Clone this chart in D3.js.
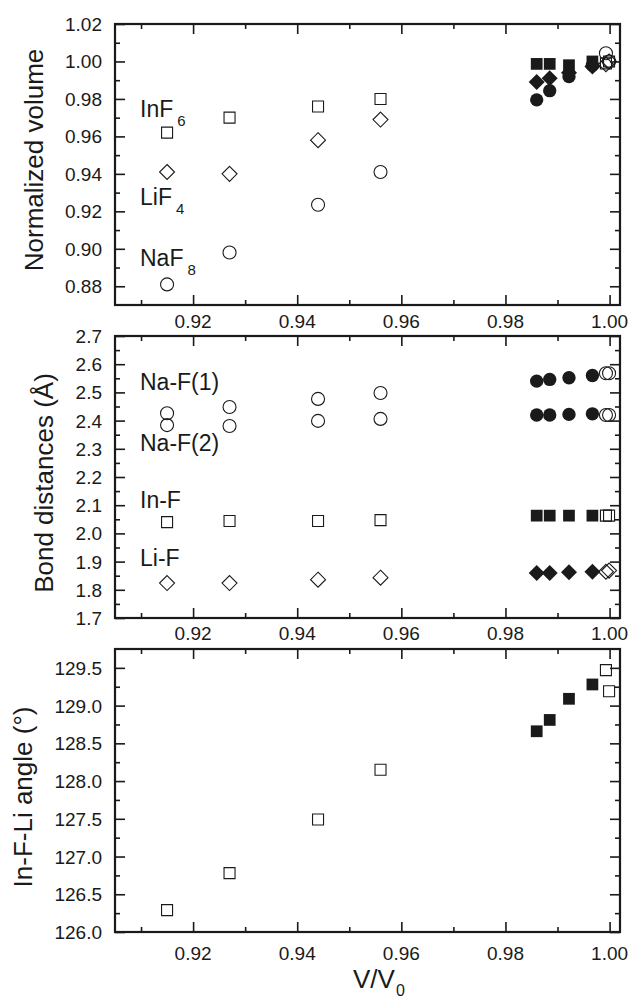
<!DOCTYPE html>
<html>
<head>
<meta charset="utf-8">
<script src="https://cdn.jsdelivr.net/npm/d3@7"></script>
<style>
  html, body { margin: 0; padding: 0; background: #fff; }
  svg { display: block; font-family: "Liberation Sans", Arial, Helvetica, sans-serif; }
</style>
</head>
<body>
<svg id="chart" width="631" height="998"></svg>
<script>
// Relative volume V/V0 at which each structure was evaluated
const calcX = [0.915, 0.927, 0.944, 0.956];        // open symbols, compressed
const measX = [0.986, 0.9885, 0.9922, 0.9967];     // filled symbols
const refX  = [0.9993, 0.9999];                    // open symbols near ambient

// Normalized polyhedral volumes
const inf6Calc = [0.962, 0.970, 0.976, 0.980];
const inf6Meas = [0.9987, 0.9987, 0.998, 1.000];
const inf6Ref  = [0.999, 1.000];
const lif4Calc = [0.941, 0.940, 0.958, 0.969];
const lif4Meas = [0.989, 0.991, 0.994, 0.9973];
const lif4Ref  = [0.9985, 1.000];
const naf8Calc = [0.881, 0.898, 0.9235, 0.941];
const naf8Meas = [0.9795, 0.9844, 0.9919, 0.998];
const naf8Ref  = [1.0044, 1.000];

// Bond distances (Å)
const naF1Calc = [2.426, 2.448, 2.477, 2.498];
const naF1Meas = [2.540, 2.546, 2.552, 2.560];
const naF1Ref  = [2.568, 2.568];
const naF2Calc = [2.384, 2.381, 2.399, 2.406];
const naF2Meas = [2.420, 2.420, 2.422, 2.424];
const naF2Ref  = [2.420, 2.420];
const inFCalc  = [2.040, 2.044, 2.044, 2.047];
const inFMeas  = [2.063, 2.063, 2.063, 2.063];
const inFRef   = [2.063, 2.063];
const liFCalc  = [1.824, 1.824, 1.836, 1.843];
const liFMeas  = [1.860, 1.860, 1.862, 1.864];
const liFRef   = [1.864, 1.868];

// In-F-Li bridging angle (degrees)
const angCalc = [126.29, 126.78, 127.49, 128.15];
const angMeas = [128.66, 128.81, 129.09, 129.28];
const angRef  = [129.47, 129.19];

// Tick values
const xMajor = [0.92, 0.94, 0.96, 0.98, 1.00];
const xMinor = [0.91, 0.93, 0.95, 0.97, 0.99];
const volMajor = [0.88, 0.90, 0.92, 0.94, 0.96, 0.98, 1.00, 1.02];
const volMinor = [0.89, 0.91, 0.93, 0.95, 0.97, 0.99, 1.01];
const bondMajor = [1.7, 1.8, 1.9, 2.0, 2.1, 2.2, 2.3, 2.4, 2.5, 2.6, 2.7];
const bondMinor = [1.75, 1.85, 1.95, 2.05, 2.15, 2.25, 2.35, 2.45, 2.55, 2.65];
const angMajor = [126.0, 126.5, 127.0, 127.5, 128.0, 128.5, 129.0, 129.5];
const angMinor = [126.25, 126.75, 127.25, 127.75, 128.25, 128.75, 129.25];

const svg = d3.select("#chart");
const ink = "#1a1a1a";
const left = 115, right = 620;
const x = d3.scaleLinear().domain([0.905, 1.002]).range([left, right]);

// square rotated by 45 degrees (equal width and height)
const symbolRhombus = {
  draw(ctx, size) {
    const r = Math.sqrt(size / 2);
    ctx.moveTo(0, -r); ctx.lineTo(r, 0); ctx.lineTo(0, r); ctx.lineTo(-r, 0); ctx.closePath();
  }
};
const symType = { square: d3.symbolSquare, circle: d3.symbolCircle, diamond: symbolRhombus };
const openSize = { square: 121, circle: 133, diamond: 112 };
const fillSize = { square: 138, circle: 140, diamond: 128 };

function panel(cfg) {
  const y = d3.scaleLinear().domain(cfg.domain).range([cfg.bottom, cfg.top]);
  const g = svg.append("g");
  const h = cfg.bottom - cfg.top;
  const w = right - left;

  // mirrored inward ticks: bottom / top
  const xb = d3.axisTop(x).tickValues(xMajor).tickSize(10).tickFormat("");
  const xbm = d3.axisTop(x).tickValues(xMinor).tickSize(5).tickFormat("");
  const xt = d3.axisBottom(x).tickValues(xMajor).tickSize(10).tickFormat("");
  const xtm = d3.axisBottom(x).tickValues(xMinor).tickSize(5).tickFormat("");
  g.append("g").attr("transform", `translate(0,${cfg.bottom})`).call(xb);
  g.append("g").attr("transform", `translate(0,${cfg.bottom})`).call(xbm);
  g.append("g").attr("transform", `translate(0,${cfg.top})`).call(xt);
  g.append("g").attr("transform", `translate(0,${cfg.top})`).call(xtm);

  // mirrored inward ticks: left / right
  const yl = d3.axisRight(y).tickValues(cfg.major).tickSize(10).tickFormat("");
  const ylm = d3.axisRight(y).tickValues(cfg.minor).tickSize(5).tickFormat("");
  const yr = d3.axisLeft(y).tickValues(cfg.major).tickSize(10).tickFormat("");
  const yrm = d3.axisLeft(y).tickValues(cfg.minor).tickSize(5).tickFormat("");
  g.append("g").attr("transform", `translate(${left},0)`).call(yl);
  g.append("g").attr("transform", `translate(${left},0)`).call(ylm);
  g.append("g").attr("transform", `translate(${right},0)`).call(yr);
  g.append("g").attr("transform", `translate(${right},0)`).call(yrm);

  g.selectAll(".domain").remove();
  g.selectAll(".tick line").attr("stroke", ink).attr("stroke-width", 1.6);

  // frame
  g.append("rect").attr("x", left).attr("y", cfg.top).attr("width", w).attr("height", h)
    .attr("fill", "none").attr("stroke", ink).attr("stroke-width", 2.2);

  // tick labels
  g.selectAll(".xl").data(xMajor).join("text")
    .attr("x", d => x(d)).attr("y", cfg.bottom + cfg.xLabelGap)
    .attr("text-anchor", "middle").attr("font-size", 19).attr("fill", ink)
    .text(d => d3.format(".2f")(d));
  g.selectAll(".yl").data(cfg.major).join("text")
    .attr("x", left - 13).attr("y", d => y(d) + 7)
    .attr("text-anchor", "end").attr("font-size", 19).attr("fill", ink)
    .text(d => d3.format(cfg.fmt)(d));

  // axis title
  g.append("text")
    .attr("transform", `translate(${cfg.titleX},${cfg.titleY}) rotate(-90)`)
    .attr("text-anchor", "middle").attr("font-size", 26).attr("fill", ink)
    .text(cfg.title);

  // data marks
  cfg.series.forEach(s => {
    const pts = [];
    s.calc.forEach((v, i) => pts.push({ x: calcX[i], y: v, filled: false }));
    s.meas.forEach((v, i) => pts.push({ x: measX[i], y: v, filled: true }));
    s.ref.forEach((v, i) => pts.push({ x: refX[i], y: v, filled: false }));
    g.append("g").selectAll("path").data(pts).join("path")
      .attr("d", d => d3.symbol().type(symType[s.shape])
        .size(d.filled ? fillSize[s.shape] : openSize[s.shape])())
      .attr("transform", d => `translate(${x(d.x)},${y(d.y)})`)
      .attr("fill", d => d.filled ? ink : "none")
      .attr("stroke", ink)
      .attr("stroke-width", d => d.filled ? 0 : 1.1);
  });

  // in-plot labels
  cfg.labels.forEach(l => {
    const t = g.append("text").attr("x", 140).attr("y", l.y)
      .attr("font-size", 23).attr("fill", ink).text(l.text);
    if (l.sub) {
      t.append("tspan").attr("dx", 4).attr("dy", 9).attr("font-size", 15).text(l.sub);
    }
  });
  return g;
}

panel({
  top: 24, bottom: 305, domain: [0.87, 1.02],
  major: volMajor, minor: volMinor, fmt: ".2f", xLabelGap: 23,
  title: "Normalized volume", titleX: 43, titleY: 160,
  series: [
    { shape: "square", calc: inf6Calc, meas: inf6Meas, ref: inf6Ref },
    { shape: "diamond", calc: lif4Calc, meas: lif4Meas, ref: lif4Ref },
    { shape: "circle", calc: naf8Calc, meas: naf8Meas, ref: naf8Ref }
  ],
  labels: [
    { text: "InF", sub: "6", y: 117 },
    { text: "LiF", sub: "4", y: 205 },
    { text: "NaF", sub: "8", y: 266 }
  ]
});

panel({
  top: 336, bottom: 618, domain: [1.7, 2.7],
  major: bondMajor, minor: bondMinor, fmt: ".1f", xLabelGap: 22,
  title: "Bond distances (Å)", titleX: 53, titleY: 483,
  series: [
    { shape: "circle", calc: naF1Calc, meas: naF1Meas, ref: naF1Ref },
    { shape: "circle", calc: naF2Calc, meas: naF2Meas, ref: naF2Ref },
    { shape: "square", calc: inFCalc, meas: inFMeas, ref: inFRef },
    { shape: "diamond", calc: liFCalc, meas: liFMeas, ref: liFRef }
  ],
  labels: [
    { text: "Na-F(1)", y: 390 },
    { text: "Na-F(2)", y: 451 },
    { text: "In-F", y: 508 },
    { text: "Li-F", y: 566 }
  ]
});

panel({
  top: 649, bottom: 932, domain: [126.0, 129.75],
  major: angMajor, minor: angMinor, fmt: ".1f", xLabelGap: 28,
  title: "In-F-Li angle (°)", titleX: 32, titleY: 797,
  series: [
    { shape: "square", calc: angCalc, meas: angMeas, ref: angRef }
  ],
  labels: []
});

// shared x-axis title
const xt = svg.append("text").attr("x", 353).attr("y", 988)
  .attr("font-size", 26).attr("fill", ink).text("V/V");
xt.append("tspan").attr("dy", 8).attr("dx", 1).attr("font-size", 16).text("0");
</script>
</body>
</html>
